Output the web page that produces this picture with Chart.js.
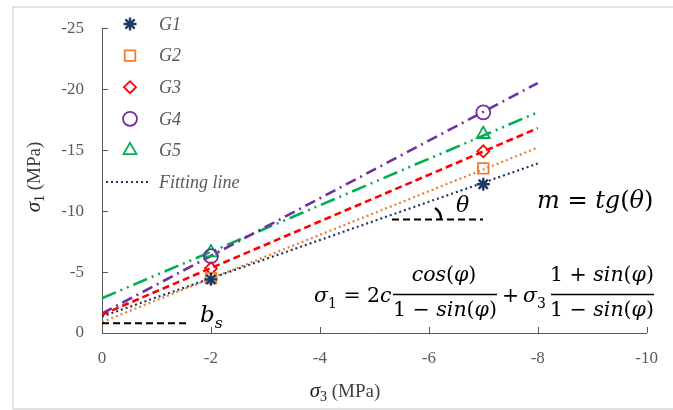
<!DOCTYPE html>
<html>
<head>
<meta charset="utf-8">
<script src="https://cdn.jsdelivr.net/npm/chart.js@4.4.1/dist/chart.umd.min.js"></script>
<style>
  html, body { margin: 0; padding: 0; background: #fff; }
  #chart { display: block; }
</style>
</head>
<body>
<canvas id="chart" width="673" height="410"></canvas>
<script>
// data (MPa)
const groups = ['G1', 'G2', 'G3', 'G4', 'G5'];
const sigma3 = [-2, -7];
const g1 = [-4.4, -12.2];
const g2 = [-4.5, -13.5];
const g3 = [-5.3, -14.9];
const g4 = [-6.3, -18.1];
const g5 = [-6.6, -16.3];

// fitting lines, ends at sigma3 = 0 and -8
const fitX = [0, -8];
const fit1 = [-1.35, -13.9];
const fit2 = [-0.9, -15.2];
const fit3 = [-1.5, -16.8];
const fit4 = [-1.6, -20.5];
const fit5 = [-2.85, -18.1];

const xTicks = [0, -2, -4, -6, -8, -10];
const yTicks = [0, -5, -10, -15, -20, -25];
const bsValue = -0.8;

const colors = ['#1f3864', '#ed7d31', '#ff0000', '#7030a0', '#00b050'];
const markers = ['star', 'rect', 'rectRot', 'circle', 'triangle'];
const radii = [6.5, 7.5, 6, 7, 7.5];
const dashes = [[2, 3], [2, 3], [7, 4], [11, 5, 2, 5], [15, 5, 2, 5, 2, 5]];
const pointSets = [g1, g2, g3, g4, g5];
const fitSets = [fit1, fit2, fit3, fit4, fit5];

const toXY = (xs, ys) => xs.map((x, i) => ({ x: x, y: ys[i] }));

const datasets = [];
groups.forEach((g, i) => {
    datasets.push({
        label: g,
        data: toXY(sigma3, pointSets[i]),
        pointStyle: markers[i],
        pointRadius: radii[i],
        borderColor: colors[i],
        pointBorderColor: colors[i],
        pointBackgroundColor: 'rgba(0,0,0,0)',
        pointBorderWidth: i === 0 ? 2.4 : 1.8,
        showLine: false
    });
});
groups.forEach((g, i) => {
    datasets.push({
        label: g + ' fit',
        data: toXY(fitX, fitSets[i]),
        showLine: true,
        borderColor: colors[i],
        borderWidth: i < 2 ? 2.2 : 2.6,
        borderDash: dashes[i],
        pointRadius: 0,
        fill: false
    });
});

const grey = '#595959';
const serif = "'Liberation Serif', 'Times New Roman', serif";
const mathFont = "'DejaVu Serif', serif";

// draw a run of math-like text pieces, returns width
function mathRun(c, parts, x, y, size, align) {
    const pieces = parts.map(p => {
        const s = p.sub ? size * 0.68 : size;
        const f = (p.it ? 'italic ' : '') + s + 'px ' + mathFont;
        c.font = f;
        return { t: p.t, f: f, w: c.measureText(p.t).width, dy: p.sub ? size * 0.28 : 0 };
    });
    const total = pieces.reduce((a, p) => a + p.w, 0);
    let cx = align === 'center' ? x - total / 2 : x;
    c.textAlign = 'left';
    c.textBaseline = 'alphabetic';
    pieces.forEach(p => {
        c.font = p.f;
        c.fillText(p.t, cx, y + p.dy);
        cx += p.w;
    });
    return total;
}

// sigma with subscript followed by unit, used for axis titles
function sigmaTitle(c, sub, x, y) {
    c.font = 'italic 21px ' + serif;
    const ws = c.measureText('σ').width;
    c.font = '14px ' + serif;
    const wsub = c.measureText(sub).width;
    c.font = '19px ' + serif;
    const wu = c.measureText(' (MPa)').width;
    let start = x - (ws + wsub + wu) / 2;
    c.textAlign = 'left';
    c.textBaseline = 'alphabetic';
    c.fillStyle = '#222';
    c.font = 'italic 21px ' + serif;
    c.fillText('σ', start, y);
    c.font = '14px ' + serif;
    c.fillText(sub, start + ws, y + 4);
    c.fillStyle = '#404040';
    c.font = '19px ' + serif;
    c.fillText(' (MPa)', start + ws + wsub, y);
}

const decor = {
    id: 'decor',
    beforeDraw(chart) {
        const c = chart.ctx;
        c.save();
        c.fillStyle = '#fff';
        c.fillRect(0, 0, chart.width, chart.height);
        c.strokeStyle = '#d9d9d9';
        c.lineWidth = 1.5;
        c.strokeRect(13, 7, 700, 402);
        c.restore();
    },
    afterDraw(chart) {
        const c = chart.ctx;
        const xs = chart.scales.x, ys = chart.scales.y;
        const a = chart.chartArea;
        c.save();
        // inside tick marks
        c.strokeStyle = grey;
        c.lineWidth = 1;
        yTicks.forEach(v => {
            const py = Math.round(ys.getPixelForValue(v)) + 0.5;
            c.beginPath(); c.moveTo(a.left, py); c.lineTo(a.left + 6, py); c.stroke();
        });
        xTicks.forEach(v => {
            const px = Math.round(xs.getPixelForValue(v)) + 0.5;
            c.beginPath(); c.moveTo(px, a.bottom); c.lineTo(px, a.bottom - 6); c.stroke();
        });

        // legend
        const lx = 130, ly0 = 24, step = 31.6;
        groups.forEach((g, i) => {
            const y = ly0 + i * step;
            c.strokeStyle = colors[i];
            c.lineWidth = i === 0 ? 2.4 : 1.8;
            c.fillStyle = 'rgba(0,0,0,0)';
            Chart.helpers.drawPoint(c, {
                pointStyle: markers[i], radius: radii[i], rotation: 0,
                borderWidth: i === 0 ? 2.4 : 1.8
            }, lx, y);
            c.fillStyle = grey;
            c.font = 'italic 18px ' + serif;
            c.textBaseline = 'middle';
            c.textAlign = 'left';
            c.fillText(g, 159, y + 1);
        });
        const fy = ly0 + 5 * step;
        c.strokeStyle = colors[0];
        c.lineWidth = 2.2;
        c.setLineDash(dashes[0]);
        c.beginPath(); c.moveTo(106, fy); c.lineTo(150, fy); c.stroke();
        c.setLineDash([]);
        c.fillStyle = grey;
        c.font = 'italic 18px ' + serif;
        c.fillText('Fitting line', 159, fy + 1);

        // axis titles
        c.save();
        c.translate(34, 177);
        c.rotate(-Math.PI / 2);
        sigmaTitle(c, '1', 0, 6);
        c.restore();
        sigmaTitle(c, '3', 345, 397);

        // b_s annotation
        c.strokeStyle = '#000';
        c.lineWidth = 2.2;
        c.setLineDash([7, 4]);
        const by = ys.getPixelForValue(bsValue);
        c.beginPath(); c.moveTo(a.left, by); c.lineTo(xs.getPixelForValue(-1.55), by); c.stroke();
        // theta base line
        c.beginPath(); c.moveTo(392, 219.5); c.lineTo(483, 219.5); c.stroke();
        c.setLineDash([]);
        c.lineWidth = 2.5;
        c.beginPath(); c.arc(428, 219, 13, -1.0, 0); c.stroke();

        c.fillStyle = '#000';
        mathRun(c, [{ t: 'b', it: true }, { t: 's', it: true, sub: true }], 200, 322, 23);
        mathRun(c, [{ t: 'θ', it: true }], 456, 212, 22);
        mathRun(c, [{ t: 'm', it: true }, { t: ' = ' }, { t: 'tg', it: true }, { t: '(' }, { t: 'θ', it: true }, { t: ')' }], 537, 208, 24);

        // Mohr-Coulomb formula
        const fs = 20.5, base = 302, numY = 281, denY = 316, barY = 294.5;
        mathRun(c, [{ t: 'σ', it: true }, { t: '1', sub: true }, { t: ' = 2' }, { t: 'c', it: true }], 314, base, fs);
        c.lineWidth = 1.3;
        c.beginPath(); c.moveTo(393, barY); c.lineTo(497, barY); c.stroke();
        mathRun(c, [{ t: 'cos', it: true }, { t: '(' }, { t: 'φ', it: true }, { t: ')' }], 444, numY, fs, 'center');
        mathRun(c, [{ t: '1 − ' }, { t: 'sin', it: true }, { t: '(' }, { t: 'φ', it: true }, { t: ')' }], 445, denY, fs, 'center');
        mathRun(c, [{ t: '+' }], 502, base, fs);
        mathRun(c, [{ t: 'σ', it: true }, { t: '3', sub: true }], 523, base, fs);
        c.beginPath(); c.moveTo(551, barY); c.lineTo(654, barY); c.stroke();
        mathRun(c, [{ t: '1 + ' }, { t: 'sin', it: true }, { t: '(' }, { t: 'φ', it: true }, { t: ')' }], 602, numY, fs, 'center');
        mathRun(c, [{ t: '1 − ' }, { t: 'sin', it: true }, { t: '(' }, { t: 'φ', it: true }, { t: ')' }], 602, denY, fs, 'center');
        c.restore();
    }
};

const ctx = document.getElementById('chart');

new Chart(ctx, {
    type: 'scatter',
    data: { datasets: datasets },
    options: {
        responsive: false,
        animation: false,
        layout: { padding: { left: 0, right: 14, top: 18, bottom: 0 } },
        plugins: { legend: { display: false }, tooltip: { enabled: false } },
        scales: {
            x: {
                type: 'linear',
                min: -10, max: 0,
                reverse: true,
                grid: { display: false, drawTicks: false },
                border: { display: true, color: grey, width: 1 },
                ticks: {
                    stepSize: 2, padding: 15, color: grey,
                    font: { family: serif, size: 17 }
                },
                afterFit(scale) { scale.height = 77; }
            },
            y: {
                type: 'linear',
                min: -25, max: 0,
                reverse: true,
                grid: { display: false, drawTicks: false },
                border: { display: true, color: grey, width: 1 },
                ticks: {
                    stepSize: 5, padding: 18, color: grey,
                    font: { family: serif, size: 17 }
                },
                afterFit(scale) { scale.width = 102; }
            }
        }
    },
    plugins: [decor]
});
</script>
</body>
</html>
